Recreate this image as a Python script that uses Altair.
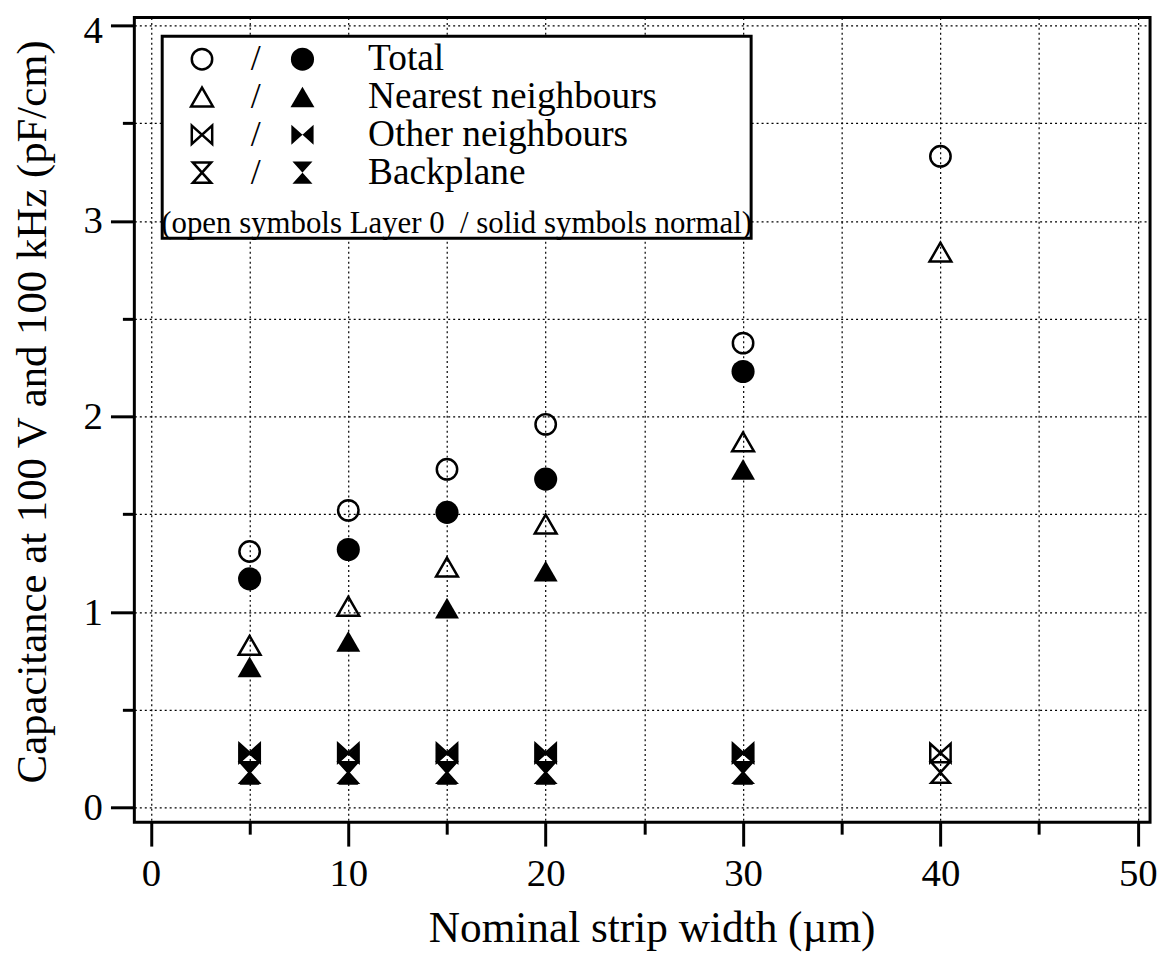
import altair as alt
import pandas as pd

# ---- data ----
widths = [5, 10, 15, 20, 30, 40]
widths_normal = [5, 10, 15, 20, 30]

total_layer0 = [1.31, 1.52, 1.73, 1.96, 2.375, 3.33]
total_normal = [1.17, 1.32, 1.51, 1.68, 2.23]
nearest_layer0 = [0.83, 1.03, 1.23, 1.45, 1.87, 2.84]
nearest_normal = [0.72, 0.85, 1.02, 1.21, 1.73]
other_layer0 = [0.28, 0.28, 0.28, 0.28, 0.28, 0.28]
other_normal = [0.275, 0.275, 0.275, 0.275, 0.275]
back_layer0 = [0.18, 0.18, 0.18, 0.18, 0.18, 0.18]
back_normal = [0.175, 0.175, 0.175, 0.175, 0.175]

series_names = ["Total", "Nearest neighbours", "Other neighbours", "Backplane"]
note_text = "(open symbols Layer 0\u00a0 / solid symbols normal)"

x_title = "Nominal strip width (\u00b5m)"
y_title = "Capacitance at 100 V and 100 kHz (pF/cm)"

# ---- styles ----
BOWTIE = "M-1,-0.9L1,0.9L1,-0.9L-1,0.9Z"
HOURGLASS = "M-0.9,-1L0.9,-1L-0.9,1L0.9,1Z"
shape_of = {
    "Total": "circle",
    "Nearest neighbours": "triangle-up",
    "Other neighbours": BOWTIE,
    "Backplane": HOURGLASS,
}
size_open = {"Total": 420, "Nearest neighbours": 480, "Other neighbours": 420, "Backplane": 420}
size_solid = {"Total": 540, "Nearest neighbours": 580, "Other neighbours": 500, "Backplane": 500}

FONT = "Liberation Serif"
W, H = 1021, 809

rows = []
for name, xs, vals_o in [
    ("Total", widths, total_layer0),
    ("Nearest neighbours", widths, nearest_layer0),
    ("Other neighbours", widths, other_layer0),
    ("Backplane", widths, back_layer0),
]:
    for x, v in zip(xs, vals_o):
        rows.append(dict(width=x, value=v, series=name, kind="Layer 0",
                         shape=shape_of[name], size=size_open[name]))
for name, xs, vals_s in [
    ("Total", widths_normal, total_normal),
    ("Nearest neighbours", widths_normal, nearest_normal),
    ("Other neighbours", widths_normal, other_normal),
    ("Backplane", widths_normal, back_normal),
]:
    for x, v in zip(xs, vals_s):
        rows.append(dict(width=x, value=v, series=name, kind="normal",
                         shape=shape_of[name], size=size_solid[name]))
df = pd.DataFrame(rows)

x_enc = alt.X(
    "width:Q",
    scale=alt.Scale(domain=[-0.84, 50.62], nice=False, zero=False),
    axis=alt.Axis(
        values=list(range(0, 51, 5)),
        labelExpr="datum.value % 10 === 0 ? datum.label : ''",
        tickSize={"condition": {"test": "datum.value % 10 === 0", "value": 24}, "value": 12},
        tickWidth=3, tickColor="black",
        domain=False,
        grid=True, gridColor="black", gridDash=[2, 3], gridWidth=1.2, gridOpacity=1,
        labelFont=FONT, labelFontSize=39, labelColor="black", labelPadding=9,
        labelFlush=False,
        title=x_title, titleFont=FONT, titleFontSize=43.5, titleFontWeight="normal",
        titleColor="black", titleX=520, titleY=120, titleAlign="center",
        titleBaseline="alphabetic",
    ),
)
y_enc = alt.Y(
    "value:Q",
    scale=alt.Scale(domain=[-0.074, 4.04], nice=False, zero=False),
    axis=alt.Axis(
        values=[i * 0.5 for i in range(9)],
        labelExpr="datum.value % 1 === 0 ? format(datum.value, 'd') : ''",
        tickSize={"condition": {"test": "datum.value % 1 === 0", "value": 24}, "value": 12},
        labelOffset={"condition": {"test": "datum.value === 4", "value": 5}, "value": 0},
        tickWidth=3, tickColor="black",
        domain=False,
        grid=True, gridColor="black", gridDash=[2, 3], gridWidth=1.2, gridOpacity=1,
        labelFont=FONT, labelFontSize=39, labelColor="black", labelPadding=8,
        labelFlush=False,
        title=y_title, titleFont=FONT, titleFontSize=43, titleFontWeight="normal",
        titleColor="black", titleAngle=-90, titleX=-102, titleY=396,
        titleAlign="center", titleBaseline="middle",
    ),
)

open_pts = alt.Chart(df[df.kind == "Layer 0"]).mark_point(
    filled=False, stroke="black", strokeWidth=2.5, opacity=1
).encode(
    x=x_enc, y=y_enc,
    shape=alt.Shape("shape:N", scale=None),
    size=alt.Size("size:Q", scale=None),
)
solid_pts = alt.Chart(df[df.kind == "normal"]).mark_point(
    filled=True, color="black", opacity=1, strokeWidth=0
).encode(
    x=x_enc, y=y_enc,
    shape=alt.Shape("shape:N", scale=None),
    size=alt.Size("size:Q", scale=None),
)

# ---- legend box (pixel layout inside the plot area) ----
one = pd.DataFrame({"a": [0]})
legend_layers = [
    alt.Chart(one).mark_rect(fill="white", stroke="black", strokeWidth=3).encode(
        x=alt.value(28), x2=alt.value(620), y=alt.value(19), y2=alt.value(222)
    )
]
row_y = [42, 80, 118, 156]
for name, ly in zip(series_names, row_y):
    legend_layers.append(
        alt.Chart(one).mark_point(filled=False, stroke="black", strokeWidth=2.5, opacity=1).encode(
            x=alt.value(68), y=alt.value(ly),
            shape=alt.value(shape_of[name]), size=alt.value(size_open[name]))
    )
    legend_layers.append(
        alt.Chart(one).mark_text(text="/", font=FONT, fontSize=36, baseline="middle",
                                 align="center", color="black").encode(
            x=alt.value(122), y=alt.value(ly))
    )
    legend_layers.append(
        alt.Chart(one).mark_point(filled=True, color="black", opacity=1, strokeWidth=0).encode(
            x=alt.value(169), y=alt.value(ly),
            shape=alt.value(shape_of[name]), size=alt.value(size_solid[name]))
    )
    legend_layers.append(
        alt.Chart(one).mark_text(text=name, font=FONT, fontSize=37.5, baseline="middle",
                                 align="left", color="black").encode(
            x=alt.value(235), y=alt.value(ly))
    )
legend_layers.append(
    alt.Chart(one).mark_text(text=note_text, font=FONT, fontSize=31, baseline="middle",
                             align="center", color="black").encode(
        x=alt.value(324), y=alt.value(208))
)

chart = alt.layer(open_pts, solid_pts, *legend_layers).properties(
    width=W, height=H,
    autosize=alt.AutoSizeParams(type="none"),
    padding={"left": 127, "top": 7, "right": 10, "bottom": 130},
    background="white",
).configure_view(stroke="black", strokeWidth=3)

chart.save("out.html", embed_options={"renderer": "svg", "actions": False})
